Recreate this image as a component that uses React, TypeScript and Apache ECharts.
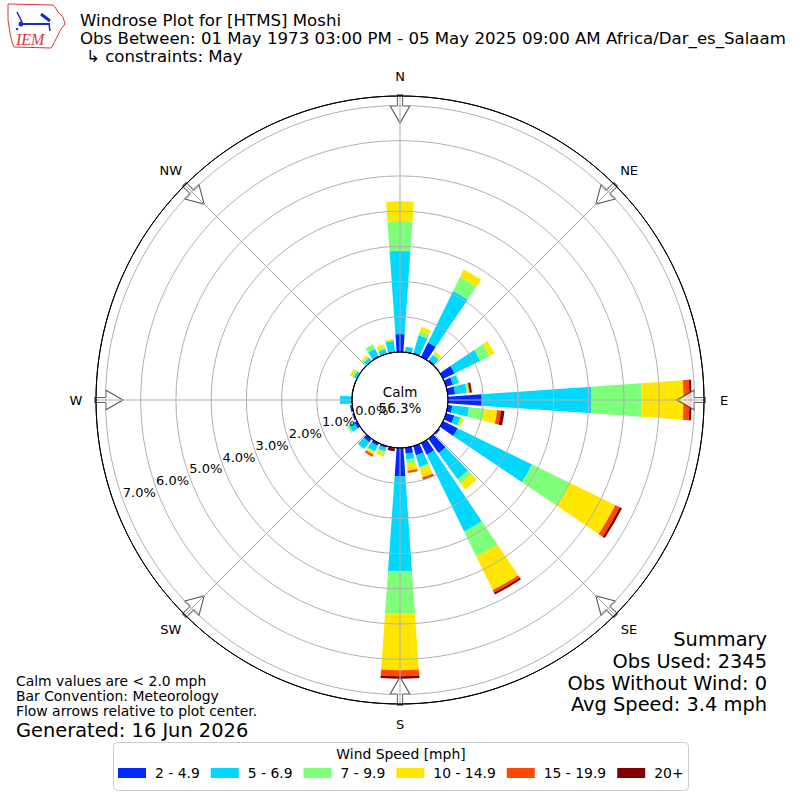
import React, { useEffect, useRef } from "react";
import * as echarts from "echarts";

// ---------- data ----------
const directions = [0, 10, 20, 30, 40, 50, 60, 70, 80, 90, 100, 110, 120, 130, 140, 150, 160, 170,
  180, 190, 200, 210, 220, 230, 240, 250, 260, 270, 280, 290, 300, 310, 320, 330, 340, 350];

const speedBins = ["2 - 4.9", "5 - 6.9", "7 - 9.9", "10 - 14.9", "15 - 19.9", "20+"];
const binColors = ["#0028ff", "#00d8ff", "#7dff7a", "#ffe600", "#ff4a00", "#800000"];

// percent of observations per direction for each speed bin
const bin2to5 = [0.51, 0.03, 0.04, 0.45, 0.05, 0.03, 0.36, 0.20, 0.21, 0.96, 0.13, 0.24, 0.46, 0.05, 0.50, 0.37, 0.27, 0.17,
  0.81, 0.02, 0.05, 0.08, 0.12, 0.02, 0.08, 0.05, 0.06, 0.03, 0.02, 0.02, 0.02, 0.02, 0.02, 0.04, 0.02, 0.03];
const bin5to7 = [2.36, 0.13, 0.51, 1.63, 0.17, 0, 0.82, 0.17, 0.33, 3.12, 0.48, 0.18, 2.35, 0, 0.92, 2.42, 0.35, 0.17,
  2.70, 0, 0.10, 0.18, 0.24, 0, 0.17, 0, 0, 0.31, 0, 0, 0.08, 0, 0.10, 0.22, 0.12, 0.30];
const bin7to10 = [0.85, 0, 0.12, 0.44, 0.05, 0, 0.30, 0.03, 0.05, 1.42, 0.43, 0.04, 1.20, 0, 0.14, 0.80, 0.05, 0.12,
  1.19, 0, 0.06, 0.03, 0, 0, 0.06, 0, 0, 0, 0, 0, 0.05, 0, 0.03, 0.14, 0.06, 0.01];
const bin10to15 = [0.56, 0, 0.13, 0.24, 0.07, 0, 0.15, 0, 0.02, 1.19, 0.37, 0.06, 1.43, 0, 0.22, 1.05, 0.25, 0.20,
  1.61, 0, 0.10, 0.07, 0, 0, 0, 0, 0, 0, 0, 0, 0.07, 0, 0.06, 0, 0.08, 0.04];
const bin15to20 = [0, 0, 0, 0, 0, 0, 0, 0, 0.02, 0.17, 0.11, 0, 0.14, 0, 0, 0.08, 0.05, 0.06,
  0.17, 0, 0, 0.07, 0, 0, 0, 0, 0, 0, 0, 0, 0, 0, 0, 0, 0, 0];
const bin20plus = [0, 0, 0, 0, 0, 0, 0, 0, 0.06, 0.06, 0.10, 0, 0.07, 0, 0, 0.06, 0.02, 0,
  0.07, 0.08, 0, 0, 0, 0, 0, 0, 0, 0, 0, 0, 0, 0, 0, 0, 0, 0];
const binValues = [bin2to5, bin5to7, bin7to10, bin10to15, bin15to20, bin20plus];

const radiusMax = 7.27; // outer edge of the plot in percent
const ringLabelMax = 7;
const arrowDirs = [0, 45, 90, 135, 180, 225, 270, 315];
const compassNames = ["N", "NE", "E", "SE", "S", "SW", "W", "NW"];
const arrowRadius = 6.9;

const titleLines = [
  "Windrose Plot for [HTMS] Moshi",
  "Obs Between: 01 May 1973 03:00 PM - 05 May 2025 09:00 AM Africa/Dar_es_Salaam",
  "↳ constraints: May",
];
const noteLines = ["Calm values are < 2.0 mph", "Bar Convention: Meteorology", "Flow arrows relative to plot center."];
const generatedText = "Generated: 16 Jun 2026";
const summaryLines = ["Summary", "Obs Used: 2345", "Obs Without Wind: 0", "Avg Speed: 3.4 mph"];
const calmLabel = "Calm";
const calmValue = "56.3%";
const legendTitle = "Wind Speed [mph]";

// ---------- styling ----------
const FONT = "DejaVu Sans";
const CX = 400;
const CY = 400;
const GRID = "#b0b0b0";
const COMPASS_LABEL_R = 324;

function txt(text: string, x: number, y: number, size: number, align = "left", extra: any = {}) {
  return {
    type: "text",
    x,
    y,
    silent: true,
    style: {
      text,
      fontSize: size,
      fontFamily: FONT,
      fill: "#000",
      align,
      verticalAlign: "middle",
      lineHeight: size,
      ...extra,
    },
  };
}

function buildOption() {
  const ringColors = ["#000000", GRID, GRID, GRID, GRID, GRID, GRID, GRID, "#000000"];

  const barSeries = speedBins.map((name, i) => ({
    name,
    type: "bar",
    coordinateSystem: "polar",
    polarIndex: 0,
    stack: "wind",
    data: binValues[i],
    barCategoryGap: "20%",
    itemStyle: { color: binColors[i] },
    z: 2,
    silent: true,
  }));

  const arrowSeries = {
    type: "scatter",
    coordinateSystem: "polar",
    polarIndex: 1,
    symbol: "path://M7.4,0 L12.6,0 L12.6,10.7 L20,10.7 L10,28 L0,10.7 L7.4,10.7 Z",
    symbolSize: [20, 28],
    itemStyle: { color: "#ffffff", borderColor: "#333", borderWidth: 1.2 },
    data: arrowDirs.map((d) => ({ value: [arrowRadius, d], symbolRotate: -d })),
    z: 3,
    silent: true,
  };

  const logo = {
    type: "group",
    x: 0,
    y: 0,
    silent: true,
    children: [
      {
        type: "polygon",
        shape: {
          points: [[8, 4], [53, 5], [55, 7], [58, 12], [63, 17], [65, 24], [61, 29], [58, 35], [55, 41], [53, 45], [51, 48],
            [14, 47], [12, 42], [10, 33], [8, 20]],
        },
        style: { fill: "none", stroke: "#d23a3a", lineWidth: 1 },
      },
      { type: "line", shape: { x1: 19, y1: 24, x2: 50, y2: 24 }, style: { stroke: "#1a2ccc", lineWidth: 2 } },
      { type: "line", shape: { x1: 17, y1: 12, x2: 22, y2: 22 }, style: { stroke: "#1a2ccc", lineWidth: 1.5 } },
      { type: "circle", shape: { cx: 21, cy: 24, r: 2.5 }, style: { fill: "#1a2ccc" } },
      { type: "line", shape: { x1: 41, y1: 14, x2: 50, y2: 21 }, style: { stroke: "#1a2ccc", lineWidth: 3 } },
      { type: "line", shape: { x1: 49, y1: 24, x2: 50, y2: 31 }, style: { stroke: "#1a2ccc", lineWidth: 1.5 } },
      { type: "circle", shape: { cx: 17, cy: 29, r: 1.2 }, style: { fill: "#1a2ccc" } },
      {
        type: "text",
        x: 16,
        y: 39,
        style: {
          text: "IEM",
          fontSize: 16,
          fontFamily: "Liberation Serif",
          fontStyle: "italic",
          fill: "#d23a3a",
          align: "left",
          verticalAlign: "middle",
        },
      },
    ],
  };

  const compassTexts = arrowDirs.map((d, i) => {
    const a = (d * Math.PI) / 180;
    return txt(compassNames[i], CX + COMPASS_LABEL_R * Math.sin(a), CY - COMPASS_LABEL_R * Math.cos(a), 13, "center");
  });

  const graphics: any[] = [
    logo,
    txt(titleLines[0], 80, 20, 16.6),
    txt(titleLines[1], 80, 38, 16.6),
    txt(titleLines[2], 86, 56, 16.6),
    ...compassTexts,
    txt(calmLabel, CX, 391.5, 13.5, "center"),
    txt(calmValue, CX, 407.5, 13.5, "center"),
    txt(noteLines[0], 16, 680.5, 13.9),
    txt(noteLines[1], 16, 695.5, 13.9),
    txt(noteLines[2], 16, 710.5, 13.9),
    txt(generatedText, 16, 730, 19.4),
    txt(summaryLines[0], 767, 639.5, 19.4, "right"),
    txt(summaryLines[1], 767, 661.5, 19.4, "right"),
    txt(summaryLines[2], 767, 683, 19.4, "right"),
    txt(summaryLines[3], 767, 704.5, 19.4, "right"),
    {
      type: "rect",
      shape: { x: 113.5, y: 742.5, width: 575, height: 48, r: 4 },
      style: { fill: "#fff", stroke: "#cccccc", lineWidth: 1 },
      z: 1,
      silent: true,
    },
    { ...txt(legendTitle, 401, 753.5, 13.9, "center"), z: 2 },
  ];

  return {
    animation: false,
    backgroundColor: "#ffffff",
    textStyle: { fontFamily: FONT },
    polar: [
      { center: [CX, CY], radius: [48, 304] },
      { center: [CX, CY], radius: [48, 304] },
      { center: [CX, CY], radius: [30, 286] },
    ],
    angleAxis: [
      {
        polarIndex: 0,
        type: "category",
        data: directions.map(String),
        startAngle: 95,
        clockwise: true,
        boundaryGap: true,
        axisLine: { show: false },
        axisTick: { show: false },
        axisLabel: { show: false },
        splitLine: { show: false },
        splitArea: { show: false },
      },
      {
        polarIndex: 1,
        type: "value",
        min: 0,
        max: 360,
        interval: 45,
        startAngle: 90,
        clockwise: true,
        z: 4,
        axisLine: { show: true, lineStyle: { color: "#000", width: 1 } },
        axisTick: { show: false },
        axisLabel: { show: false },
        splitLine: { show: true, lineStyle: { color: GRID, width: 1 } },
        splitArea: { show: false },
      },
      {
        polarIndex: 2,
        type: "value",
        min: 0,
        max: 360,
        startAngle: 199.5,
        show: false,
      },
    ],
    radiusAxis: [
      {
        polarIndex: 0,
        type: "value",
        min: 0,
        max: radiusMax,
        interval: 1,
        z: 4,
        axisLine: { show: false },
        axisTick: { show: false },
        axisLabel: { show: false },
        splitLine: { show: true, lineStyle: { color: ringColors, width: 1 } },
        splitArea: { show: false },
      },
      {
        polarIndex: 1,
        type: "value",
        min: 0,
        max: radiusMax,
        show: false,
        splitLine: { show: false },
      },
      {
        polarIndex: 2,
        type: "value",
        min: 0,
        max: radiusMax,
        interval: 1,
        z: 5,
        axisLine: { show: false },
        axisTick: { show: false },
        splitLine: { show: false },
        splitArea: { show: false },
        axisLabel: {
          show: true,
          margin: 0,
          align: "center",
          verticalAlign: "middle",
          fontSize: 13,
          color: "#000",
          fontFamily: FONT,
          showMaxLabel: true,
          showMinLabel: true,
          formatter: (v: number) =>
            Math.abs(v - Math.round(v)) < 1e-6 && v <= ringLabelMax + 1e-6 ? v.toFixed(1) + "%" : "",
        },
      },
    ],
    legend: {
      data: speedBins,
      left: 118,
      top: 766,
      padding: 0,
      itemWidth: 28,
      itemHeight: 10,
      itemGap: 11,
      icon: "rect",
      selectedMode: false,
      z: 5,
      textStyle: { fontSize: 13.9, color: "#000", fontFamily: FONT, padding: [0, 0, 0, 4] },
    },
    graphic: graphics,
    series: [...barSeries, arrowSeries],
  };
}

export default function App() {
  const ref = useRef<HTMLDivElement>(null);
  useEffect(() => {
    if (!ref.current) return;
    const chart = echarts.init(ref.current, null, { renderer: "svg" });
    chart.setOption(buildOption() as any);
    return () => chart.dispose();
  }, []);
  return (
    <div
      ref={ref}
      style={{ position: "fixed", left: 0, top: 0, width: 800, height: 800, background: "#fff" }}
    />
  );
}
